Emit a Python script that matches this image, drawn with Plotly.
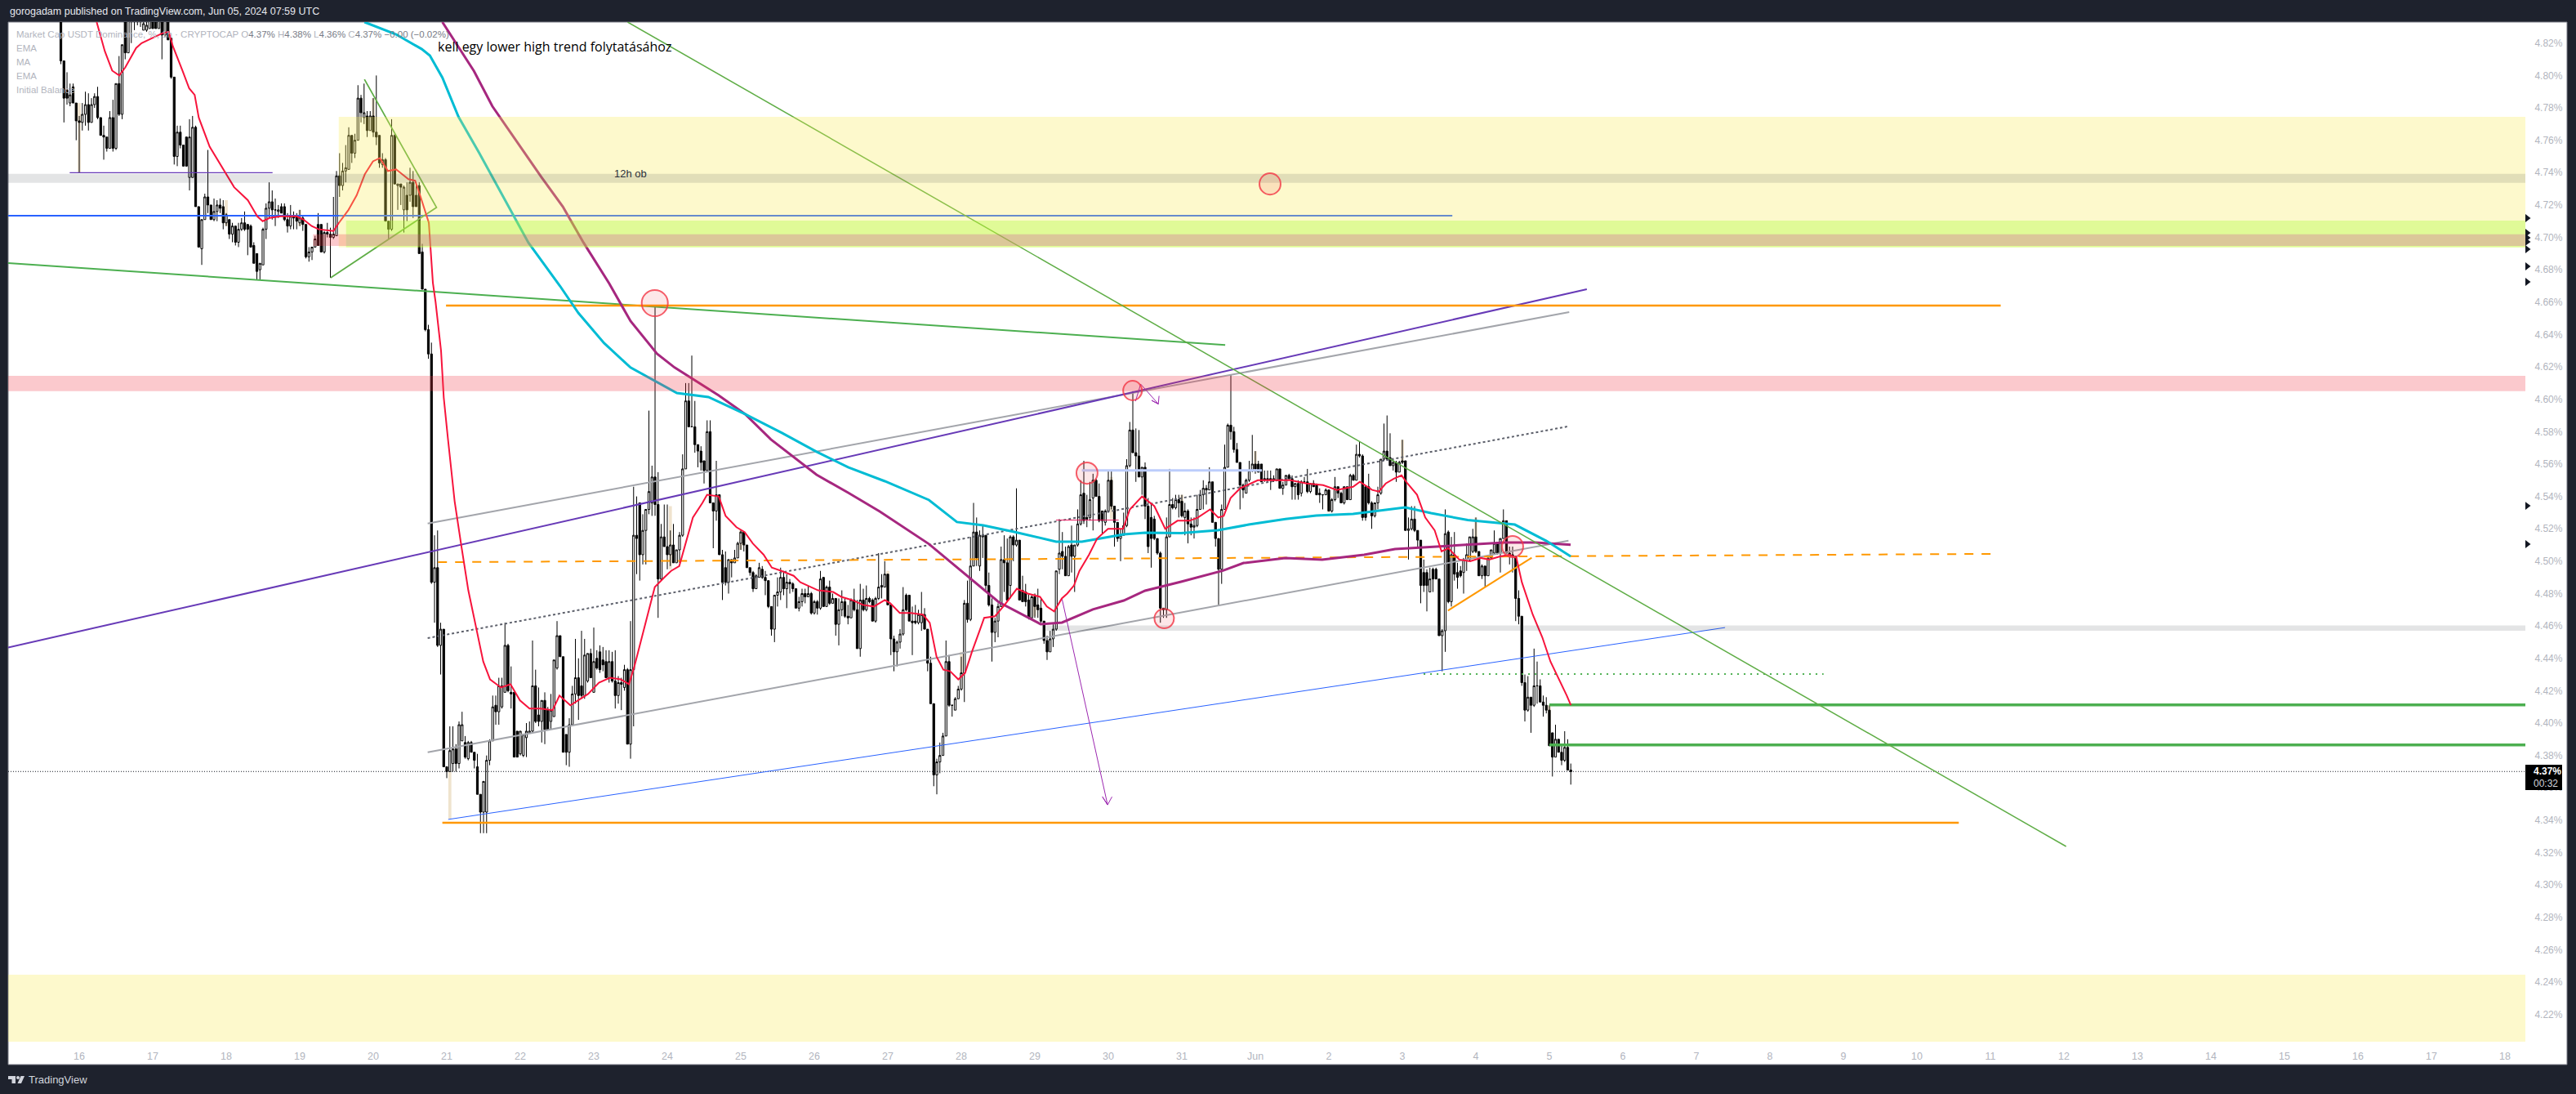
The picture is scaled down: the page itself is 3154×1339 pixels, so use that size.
import pandas as pd
import plotly.graph_objects as go

# ---------- chart values: USDT dominance (%), 1h candles, first candle = May 15 18:00 ----------
first_hour = -6  # hours relative to May 16 00:00
opens = [4.838,4.809,4.791,4.783,4.793,4.783,
4.772,4.771,4.776,4.782,4.771,4.782,4.787,4.774,4.763,4.762,4.755,4.774,4.755,4.795,4.776,4.833,4.814,4.838,4.837,4.834,4.837,4.828,4.828,4.829,
4.835,4.835,4.829,4.836,4.825,4.836,4.823,4.799,4.750,4.765,4.757,4.762,4.737,4.737,4.768,4.719,4.693,4.711,4.725,4.720,4.711,4.716,4.720,4.719,
4.709,4.711,4.702,4.707,4.697,4.705,4.709,4.708,4.707,4.695,4.690,4.680,4.683,4.705,4.718,4.722,4.717,4.716,4.719,4.719,4.711,4.707,4.713,4.713,
4.709,4.712,4.708,4.688,4.691,4.694,4.708,4.708,4.691,4.703,4.702,4.700,4.701,4.738,4.732,4.741,4.742,4.763,4.752,4.760,4.786,4.774,4.775,4.766,
4.775,4.765,4.763,4.745,4.748,4.710,4.705,4.763,4.732,4.733,4.717,4.726,4.726,4.734,4.726,4.732,4.691,4.668,4.643,4.628,4.487,4.496,4.448,4.458,
4.373,4.370,4.375,4.384,4.375,4.389,4.388,4.378,4.388,4.382,4.373,4.356,4.345,4.345,4.377,4.389,4.411,4.407,4.410,4.419,4.448,4.419,4.419,4.395,
4.381,4.380,4.391,4.394,4.395,4.423,4.405,4.401,4.414,4.408,4.401,4.404,4.434,4.454,4.441,4.393,4.382,4.399,4.418,4.428,4.423,4.417,4.426,4.443,
4.419,4.440,4.444,4.439,4.438,4.428,4.438,4.426,4.417,4.425,4.422,4.433,4.387,4.433,4.516,4.536,4.504,4.519,4.532,4.536,4.552,4.535,4.489,4.515,
4.509,4.504,4.510,4.499,4.507,4.516,4.557,4.599,4.583,4.583,4.572,4.568,4.562,4.556,4.580,4.536,4.531,4.541,4.504,4.496,4.487,4.501,4.499,4.502,
4.511,4.518,4.510,4.496,4.493,4.483,4.490,4.495,4.490,4.488,4.472,4.458,4.479,4.481,4.490,4.483,4.487,4.486,4.483,4.471,4.475,4.480,4.478,4.480,
4.468,4.475,4.471,4.490,4.472,4.484,4.474,4.477,4.461,4.470,4.475,4.466,4.465,4.476,4.470,4.446,4.476,4.470,4.477,4.476,4.463,4.477,4.484,4.484,
4.492,4.473,4.452,4.444,4.450,4.455,4.479,4.479,4.463,4.463,4.462,4.462,4.467,4.458,4.437,4.412,4.368,4.376,4.380,4.392,4.438,4.411,4.408,4.415,
4.421,4.431,4.474,4.464,4.497,4.518,4.497,4.515,4.516,4.485,4.473,4.456,4.463,4.472,4.501,4.499,4.485,4.515,4.510,4.513,4.482,4.481,4.476,4.465,
4.478,4.473,4.471,4.463,4.451,4.444,4.452,4.458,4.495,4.506,4.503,4.491,4.510,4.503,4.510,4.523,4.542,4.527,4.527,4.539,4.550,4.540,4.531,4.524,
4.531,4.550,4.534,4.524,4.514,4.516,4.522,4.559,4.581,4.567,4.565,4.552,4.558,4.534,4.527,4.526,4.514,4.505,4.471,4.470,4.515,4.535,4.533,4.538,
4.537,4.527,4.531,4.523,4.521,4.522,4.532,4.541,4.545,4.544,4.549,4.524,4.514,4.495,4.532,4.558,4.584,4.580,4.569,4.561,4.547,4.542,4.550,4.556,
4.560,4.560,4.560,4.551,4.551,4.551,4.550,4.550,4.557,4.545,4.547,4.553,4.551,4.546,4.548,4.542,4.549,4.549,4.543,4.548,4.547,4.542,4.541,4.541,
4.544,4.531,4.538,4.546,4.542,4.536,4.546,4.538,4.553,4.550,4.566,4.565,4.546,4.546,4.536,4.528,4.536,4.542,4.563,4.568,4.564,4.559,4.561,4.555,
4.562,4.562,4.519,4.520,4.526,4.519,4.513,4.493,4.493,4.481,4.495,4.495,4.489,4.454,4.457,4.518,4.475,4.504,4.493,4.494,4.493,4.501,4.501,4.506,
4.515,4.506,4.491,4.497,4.491,4.502,4.505,4.511,4.505,4.514,4.525,4.505,4.504,4.503,4.477,4.466,4.425,4.408,4.416,4.411,4.423,4.423,4.413,4.411,
4.408,4.394,4.379,4.390,4.382,4.377,4.385,4.371]
highs = [4.843,4.809,4.802,4.795,4.795,4.783,
4.775,4.783,4.790,4.789,4.786,4.789,4.793,4.774,4.769,4.762,4.778,4.785,4.795,4.812,4.819,4.836,4.842,4.842,4.840,4.840,4.840,4.836,4.836,4.838,
4.838,4.838,4.840,4.840,4.838,4.838,4.823,4.799,4.769,4.769,4.757,4.762,4.773,4.775,4.769,4.719,4.711,4.727,4.754,4.720,4.724,4.723,4.724,4.723,
4.715,4.711,4.709,4.707,4.709,4.712,4.716,4.708,4.708,4.697,4.690,4.684,4.706,4.721,4.734,4.729,4.724,4.720,4.721,4.721,4.715,4.720,4.716,4.715,
4.717,4.713,4.708,4.694,4.694,4.701,4.715,4.708,4.704,4.709,4.706,4.725,4.741,4.752,4.746,4.757,4.768,4.763,4.764,4.794,4.788,4.795,4.778,4.778,
4.786,4.800,4.763,4.752,4.749,4.710,4.773,4.764,4.733,4.733,4.732,4.734,4.743,4.741,4.733,4.734,4.696,4.668,4.646,4.635,4.516,4.519,4.462,4.458,
4.373,4.398,4.398,4.387,4.401,4.407,4.392,4.389,4.389,4.382,4.381,4.356,4.364,4.380,4.390,4.417,4.417,4.428,4.428,4.462,4.449,4.435,4.419,4.395,
4.395,4.393,4.400,4.401,4.451,4.433,4.422,4.414,4.419,4.410,4.418,4.439,4.463,4.454,4.441,4.393,4.403,4.423,4.452,4.440,4.457,4.452,4.443,4.446,
4.459,4.445,4.448,4.447,4.445,4.445,4.444,4.445,4.429,4.428,4.436,4.434,4.463,4.546,4.540,4.536,4.529,4.532,4.593,4.559,4.657,4.555,4.523,4.535,
4.535,4.519,4.523,4.507,4.518,4.566,4.610,4.610,4.627,4.599,4.572,4.571,4.562,4.587,4.587,4.536,4.562,4.541,4.507,4.506,4.501,4.501,4.507,4.512,
4.519,4.518,4.510,4.496,4.494,4.492,4.499,4.497,4.494,4.488,4.472,4.479,4.490,4.496,4.494,4.492,4.489,4.487,4.483,4.478,4.483,4.483,4.485,4.481,
4.476,4.476,4.494,4.490,4.485,4.488,4.480,4.477,4.477,4.482,4.477,4.473,4.477,4.483,4.476,4.486,4.483,4.485,4.478,4.477,4.478,4.505,4.492,4.500,
4.492,4.473,4.454,4.451,4.458,4.484,4.480,4.479,4.472,4.473,4.470,4.481,4.471,4.458,4.441,4.412,4.378,4.388,4.394,4.451,4.442,4.411,4.416,4.423,
4.441,4.476,4.488,4.515,4.536,4.527,4.519,4.522,4.516,4.493,4.477,4.465,4.474,4.509,4.516,4.514,4.516,4.516,4.545,4.513,4.491,4.486,4.480,4.479,
4.480,4.483,4.477,4.463,4.454,4.457,4.461,4.494,4.526,4.518,4.509,4.510,4.522,4.510,4.532,4.550,4.562,4.541,4.549,4.554,4.551,4.548,4.531,4.532,
4.556,4.556,4.534,4.524,4.520,4.530,4.563,4.586,4.605,4.582,4.581,4.558,4.561,4.539,4.536,4.528,4.514,4.506,4.471,4.527,4.557,4.539,4.541,4.541,
4.541,4.536,4.532,4.527,4.527,4.541,4.544,4.550,4.547,4.558,4.549,4.524,4.514,4.535,4.572,4.585,4.615,4.583,4.573,4.561,4.548,4.551,4.562,4.578,
4.568,4.562,4.560,4.556,4.556,4.556,4.553,4.557,4.557,4.549,4.553,4.554,4.553,4.548,4.550,4.550,4.552,4.557,4.548,4.550,4.548,4.545,4.541,4.545,
4.544,4.539,4.552,4.546,4.543,4.546,4.546,4.554,4.554,4.572,4.574,4.566,4.546,4.554,4.537,4.536,4.546,4.563,4.585,4.590,4.579,4.563,4.562,4.562,
4.575,4.562,4.527,4.534,4.534,4.519,4.513,4.501,4.495,4.496,4.496,4.496,4.489,4.458,4.532,4.519,4.515,4.518,4.499,4.497,4.502,4.511,4.515,4.520,
4.527,4.506,4.498,4.497,4.502,4.507,4.519,4.512,4.514,4.532,4.525,4.509,4.509,4.503,4.482,4.466,4.430,4.429,4.416,4.446,4.438,4.427,4.417,4.416,
4.411,4.394,4.399,4.390,4.387,4.395,4.390,4.375]
lows = [4.807,4.771,4.782,4.781,4.783,4.760,
4.740,4.766,4.769,4.766,4.771,4.780,4.773,4.763,4.748,4.753,4.755,4.753,4.754,4.775,4.773,4.810,4.814,4.820,4.828,4.831,4.830,4.828,4.827,4.829,
4.829,4.829,4.829,4.810,4.824,4.822,4.798,4.745,4.744,4.755,4.744,4.744,4.729,4.737,4.719,4.694,4.683,4.711,4.715,4.711,4.710,4.710,4.715,4.705,
4.707,4.699,4.697,4.695,4.694,4.704,4.704,4.689,4.694,4.684,4.674,4.674,4.683,4.699,4.712,4.711,4.707,4.712,4.715,4.710,4.703,4.705,4.705,4.705,
4.707,4.704,4.687,4.685,4.686,4.694,4.695,4.691,4.690,4.700,4.675,4.699,4.701,4.725,4.729,4.734,4.742,4.746,4.749,4.760,4.771,4.770,4.762,4.766,
4.762,4.757,4.743,4.743,4.710,4.699,4.704,4.733,4.717,4.720,4.703,4.710,4.722,4.712,4.719,4.690,4.668,4.642,4.625,4.486,4.462,4.447,4.430,4.373,
4.366,4.370,4.370,4.370,4.372,4.389,4.378,4.377,4.382,4.372,4.356,4.332,4.332,4.332,4.374,4.389,4.399,4.399,4.409,4.419,4.419,4.409,4.379,4.379,
4.380,4.379,4.379,4.394,4.394,4.400,4.398,4.388,4.387,4.396,4.396,4.404,4.433,4.441,4.382,4.374,4.373,4.399,4.412,4.402,4.415,4.415,4.425,4.428,
4.419,4.433,4.431,4.432,4.428,4.425,4.425,4.409,4.412,4.408,4.420,4.387,4.378,4.398,4.492,4.488,4.498,4.498,4.529,4.528,4.528,4.465,4.488,4.509,
4.495,4.497,4.499,4.499,4.499,4.515,4.557,4.583,4.583,4.567,4.558,4.556,4.548,4.555,4.536,4.508,4.525,4.504,4.476,4.485,4.480,4.490,4.499,4.502,
4.507,4.506,4.496,4.491,4.481,4.483,4.490,4.489,4.479,4.471,4.454,4.450,4.472,4.476,4.479,4.471,4.480,4.481,4.471,4.469,4.472,4.474,4.478,4.467,
4.467,4.467,4.470,4.472,4.472,4.473,4.474,4.454,4.448,4.466,4.465,4.461,4.465,4.469,4.446,4.441,4.469,4.469,4.474,4.463,4.462,4.476,4.477,4.484,
4.473,4.442,4.432,4.435,4.446,4.454,4.469,4.463,4.442,4.461,4.461,4.457,4.458,4.432,4.412,4.361,4.356,4.369,4.380,4.392,4.410,4.404,4.408,4.415,
4.420,4.413,4.462,4.463,4.497,4.497,4.494,4.502,4.482,4.472,4.438,4.450,4.453,4.472,4.481,4.475,4.477,4.500,4.509,4.476,4.475,4.472,4.464,4.465,
4.465,4.465,4.462,4.449,4.439,4.444,4.447,4.457,4.492,4.495,4.491,4.491,4.493,4.481,4.509,4.522,4.523,4.521,4.525,4.519,4.540,4.524,4.517,4.522,
4.530,4.532,4.509,4.512,4.500,4.516,4.521,4.558,4.567,4.549,4.552,4.541,4.526,4.505,4.496,4.513,4.504,4.462,4.465,4.465,4.515,4.532,4.532,4.527,
4.527,4.516,4.511,4.516,4.514,4.521,4.532,4.532,4.535,4.544,4.524,4.509,4.473,4.486,4.532,4.558,4.575,4.567,4.561,4.532,4.539,4.542,4.549,4.555,
4.554,4.555,4.549,4.549,4.549,4.544,4.549,4.550,4.545,4.541,4.547,4.550,4.538,4.538,4.538,4.540,4.548,4.542,4.542,4.546,4.541,4.536,4.532,4.541,
4.531,4.530,4.537,4.539,4.536,4.535,4.538,4.538,4.550,4.550,4.564,4.525,4.525,4.535,4.520,4.527,4.532,4.541,4.562,4.562,4.559,4.556,4.549,4.555,
4.560,4.519,4.501,4.519,4.518,4.509,4.474,4.481,4.469,4.481,4.481,4.489,4.454,4.432,4.444,4.474,4.472,4.488,4.483,4.490,4.480,4.494,4.500,4.505,
4.505,4.491,4.489,4.484,4.491,4.501,4.504,4.504,4.493,4.514,4.505,4.498,4.493,4.463,4.461,4.423,4.401,4.407,4.394,4.410,4.412,4.413,4.404,4.406,
4.386,4.367,4.379,4.382,4.374,4.376,4.371,4.362]
closes = [4.809,4.786,4.786,4.788,4.783,4.772,
4.771,4.776,4.782,4.771,4.782,4.787,4.774,4.763,4.762,4.755,4.774,4.755,4.795,4.776,4.819,4.814,4.840,4.835,4.834,4.837,4.834,4.832,4.831,4.835,
4.829,4.829,4.836,4.825,4.836,4.822,4.799,4.750,4.765,4.757,4.744,4.744,4.762,4.768,4.719,4.694,4.711,4.725,4.720,4.711,4.716,4.720,4.718,4.709,
4.714,4.702,4.707,4.697,4.705,4.709,4.705,4.705,4.694,4.684,4.679,4.684,4.705,4.718,4.722,4.717,4.717,4.717,4.715,4.711,4.707,4.713,4.712,4.710,
4.712,4.708,4.688,4.691,4.694,4.699,4.695,4.691,4.703,4.702,4.700,4.702,4.738,4.732,4.741,4.743,4.763,4.752,4.760,4.786,4.777,4.777,4.766,4.775,
4.765,4.762,4.746,4.748,4.710,4.705,4.763,4.733,4.733,4.731,4.731,4.717,4.734,4.719,4.719,4.690,4.668,4.643,4.628,4.487,4.496,4.448,4.458,4.373,
4.370,4.383,4.384,4.375,4.399,4.399,4.379,4.388,4.382,4.377,4.356,4.345,4.364,4.377,4.389,4.410,4.407,4.423,4.423,4.448,4.420,4.418,4.379,4.379,
4.395,4.393,4.395,4.395,4.423,4.401,4.401,4.414,4.396,4.396,4.408,4.439,4.454,4.441,4.382,4.382,4.399,4.418,4.428,4.417,4.417,4.442,4.443,4.428,
4.438,4.434,4.433,4.436,4.428,4.438,4.426,4.417,4.425,4.424,4.433,4.387,4.433,4.516,4.514,4.504,4.519,4.532,4.543,4.552,4.535,4.489,4.515,4.509,
4.504,4.510,4.499,4.507,4.516,4.557,4.599,4.583,4.583,4.572,4.568,4.561,4.556,4.580,4.536,4.531,4.541,4.504,4.487,4.487,4.501,4.499,4.502,4.511,
4.518,4.510,4.496,4.493,4.483,4.491,4.496,4.490,4.488,4.472,4.458,4.479,4.481,4.490,4.483,4.487,4.486,4.483,4.471,4.475,4.480,4.478,4.480,4.468,
4.475,4.471,4.489,4.472,4.484,4.474,4.477,4.461,4.470,4.475,4.466,4.465,4.476,4.470,4.446,4.476,4.470,4.477,4.475,4.463,4.477,4.484,4.485,4.492,
4.473,4.452,4.444,4.450,4.455,4.470,4.470,4.463,4.462,4.462,4.467,4.467,4.458,4.437,4.412,4.368,4.376,4.380,4.392,4.438,4.411,4.411,4.415,4.421,
4.431,4.474,4.464,4.497,4.518,4.502,4.516,4.516,4.485,4.473,4.456,4.463,4.472,4.501,4.499,4.476,4.515,4.510,4.513,4.476,4.475,4.475,4.465,4.478,
4.472,4.470,4.463,4.451,4.444,4.452,4.458,4.494,4.505,4.503,4.491,4.509,4.503,4.510,4.523,4.541,4.525,4.526,4.538,4.550,4.540,4.525,4.525,4.531,
4.550,4.534,4.524,4.514,4.516,4.522,4.559,4.581,4.567,4.565,4.552,4.558,4.534,4.509,4.514,4.514,4.505,4.471,4.470,4.515,4.535,4.533,4.538,4.536,
4.528,4.531,4.523,4.521,4.522,4.532,4.541,4.545,4.544,4.549,4.524,4.514,4.495,4.532,4.558,4.584,4.580,4.569,4.561,4.547,4.544,4.550,4.556,4.560,
4.557,4.555,4.549,4.550,4.550,4.550,4.551,4.557,4.545,4.547,4.553,4.551,4.546,4.548,4.541,4.549,4.549,4.543,4.548,4.546,4.541,4.541,4.541,4.544,
4.531,4.538,4.546,4.542,4.536,4.546,4.538,4.553,4.550,4.566,4.565,4.527,4.527,4.536,4.528,4.536,4.541,4.563,4.568,4.563,4.559,4.561,4.555,4.561,
4.561,4.519,4.520,4.526,4.519,4.513,4.485,4.485,4.485,4.489,4.489,4.489,4.454,4.457,4.517,4.475,4.504,4.492,4.490,4.491,4.501,4.504,4.515,4.515,
4.506,4.491,4.497,4.491,4.502,4.507,4.511,4.505,4.514,4.525,4.505,4.503,4.503,4.477,4.466,4.425,4.408,4.416,4.411,4.423,4.423,4.413,4.411,4.408,
4.386,4.379,4.390,4.382,4.377,4.385,4.371,4.370]

# indicator lines: days after May 16 00:00, price
ema_fast_days = [.237,.348,.448,.544,.626,.774,.848,.996,1.126,1.218,1.274,1.404,1.496,1.570,1.626,1.774,1.959,2.107,2.293,2.422,2.496,2.589,2.737,2.959,3.052,3.163,3.256,3.404,3.459,3.533,3.663,3.774,3.885,3.996,4.089,4.2,4.311,4.478,4.57,4.644,4.756,4.811,4.848,4.922,4.959,5.015,5.107,5.2,5.293,5.404,5.496,5.589,5.737,5.867,5.996,6.126,6.274,6.441,6.533,6.681,6.811,6.922,7.07,7.219,7.367,7.478,7.552,7.663,7.756,7.83,7.959,8.052,8.163,8.256,8.348,8.478,8.541,8.7,8.793,8.941,9.052,9.163,9.311,9.422,9.552,9.719,9.811,10.052,10.256,10.367,10.515,10.663,10.811,10.959,11.033,11.163,11.311,11.478,11.57,11.663,11.756,11.848,11.959,12.052,12.144,12.256,12.311,12.459,12.589,12.756,12.904,13.07,13.163,13.263,13.367,13.441,13.533,13.607,13.737,13.848,13.996,14.2,14.293,14.459,14.626,14.774,14.941,15.107,15.219,15.385,15.496,15.57,15.663,15.793,16.033,16.219,16.478,16.7,16.922,17.107,17.33,17.422,17.589,17.681,17.774,17.885,17.989,18.07,18.2,18.311,18.44,18.533,18.626,18.774,18.922,19.07,19.181,19.33,19.459,19.552,19.626,19.774,19.904,20.015,20.144,20.237,20.293]
ema_fast_price = [4.833,4.815,4.803,4.800,4.805,4.817,4.820,4.823,4.826,4.827,4.818,4.803,4.792,4.788,4.774,4.756,4.742,4.731,4.723,4.713,4.710,4.712,4.713,4.713,4.711,4.707,4.705,4.704,4.704,4.709,4.717,4.726,4.739,4.747,4.749,4.741,4.742,4.736,4.735,4.725,4.709,4.672,4.660,4.630,4.601,4.576,4.537,4.509,4.482,4.458,4.438,4.427,4.422,4.424,4.414,4.409,4.409,4.408,4.417,4.411,4.415,4.418,4.425,4.428,4.427,4.424,4.435,4.455,4.472,4.484,4.490,4.494,4.497,4.512,4.527,4.536,4.541,4.540,4.528,4.521,4.518,4.511,4.504,4.496,4.494,4.491,4.487,4.482,4.481,4.478,4.476,4.473,4.472,4.476,4.474,4.468,4.468,4.467,4.462,4.441,4.433,4.432,4.427,4.431,4.444,4.458,4.465,4.466,4.473,4.483,4.480,4.478,4.472,4.469,4.477,4.480,4.485,4.494,4.504,4.514,4.520,4.520,4.532,4.540,4.534,4.520,4.525,4.525,4.527,4.532,4.527,4.528,4.539,4.545,4.550,4.550,4.550,4.548,4.547,4.544,4.546,4.549,4.544,4.543,4.548,4.551,4.553,4.548,4.541,4.527,4.519,4.506,4.508,4.501,4.500,4.502,4.501,4.503,4.504,4.502,4.487,4.467,4.453,4.438,4.426,4.417,4.411]
teal_days = [3.88,4.31,4.66,4.77,4.94,5.16,5.44,5.90,6.11,6.54,6.79,7.14,7.50,8.13,8.56,9.06,9.56,10.03,10.46,10.96,11.56,11.94,12.30,12.72,13.29,13.64,14.21,14.50,14.99,15.49,15.91,16.41,16.83,17.33,18.04,18.39,18.89,19.53,19.96,20.29]
teal_price = [4.833,4.8254,4.8163,4.8123,4.7987,4.7744,4.7522,4.7139,4.6968,4.6700,4.6533,4.6347,4.6196,4.6039,4.6014,4.5908,4.5792,4.5676,4.5580,4.5494,4.5378,4.5242,4.5221,4.5181,4.5121,4.5121,4.5166,4.5176,4.5173,4.5191,4.5226,4.5261,4.5282,4.5292,4.5332,4.5297,4.5254,4.5226,4.5125,4.5030]
magenta_days = [4.94,5.16,5.37,5.62,5.93,6.29,6.58,6.86,7.21,7.50,7.86,8.10,8.70,9.06,9.41,10.03,10.46,10.89,11.56,12.02,12.51,13.08,13.37,13.79,14.21,14.50,14.99,15.56,15.84,16.41,16.91,17.48,17.90,18.47,18.96,19.39,19.81,20.29]
magenta_price = [4.833,4.8178,4.8027,4.7810,4.7608,4.7371,4.7189,4.6968,4.6715,4.6483,4.6281,4.6196,4.6024,4.5908,4.5752,4.5534,4.5423,4.5307,4.5106,4.4934,4.4747,4.4611,4.4621,4.4702,4.4757,4.4818,4.4873,4.4942,4.4989,4.5019,4.5009,4.5040,4.5075,4.5090,4.5105,4.5116,4.5116,4.5101]

# drawn trend lines: (days, price)
green_slow_days, green_slow_price = [-0.967, 15.59], [4.6841, 4.6335]
green_fall_days, green_fall_price = [7.46, 27.03], [4.833, 4.3238]
purple_rise_days, purple_rise_price = [-0.967, 20.51], [4.4467, 4.668]
channel_top_days, channel_top_price = [4.74, 20.27], [4.5233, 4.6538]
channel_low_days, channel_low_price = [4.74, 20.26], [4.382, 4.5127]
channel_mid_days, channel_mid_price = [4.74, 20.26], [4.4525, 4.5833]
blue_rise_days, blue_rise_price = [5.02, 22.39], [4.3405, 4.459]
orange_dash_days, orange_dash_price = [4.88, 26.01], [4.4994, 4.5045]
orange_top_days, orange_top_price = [4.99, 26.14], [4.6579, 4.6579]
orange_low_days, orange_low_price = [4.94, 25.57], [4.3385, 4.3385]
orange_wedge_days, orange_wedge_price = [18.62, 19.76], [4.4695, 4.5021]
blue_flat_days, blue_flat_price = [-0.967, 18.68], [4.7134, 4.7134]
purple_flat_days, purple_flat_price = [-0.13, 2.63], [4.74, 4.74]
lightblue_days, lightblue_price = [13.64, 16.09], [4.5561, 4.5561]
pink_days, pink_price = [13.29, 14.14], [4.5254, 4.5254]
green_upper_days, green_upper_price = [20.0, 33.278], [4.4113, 4.4113]
green_lower_days, green_lower_price = [20.0, 33.278], [4.3865, 4.3865]
green_dot_days, green_dot_price = [18.29, 23.73], [4.4303, 4.4303]
triangle_days, triangle_price = [3.88, 4.86, 3.42], [4.7976, 4.7185, 4.675]
arrow1_days, arrow1_price = [13.37, 13.99, 13.92, 13.99, 14.05], [4.4767, 4.3495, 4.3545, 4.3495, 4.3545]
arrow2_days, arrow2_price = [14.37, 14.44, 14.68, 14.59, 14.68, 14.69], [4.5988, 4.6094, 4.5971, 4.5993, 4.5971, 4.6021]
last_price = 4.3701

# zones: x0 day, x1 day, price bottom, price top
zone_yellow = (3.53, 33.278, 4.6938, 4.7744)
zone_yellow_low = (-0.967, 33.278, 4.2032, 4.2446)
zone_gray_top = (-0.967, 33.278, 4.7337, 4.7393)
zone_gray_low = (13.11, 33.278, 4.457, 4.4603)
zone_pink = (-0.967, 33.278, 4.605, 4.6145)
zone_green = (3.63, 33.278, 4.6938, 4.7104)
zone_pink_left = (3.18, 3.63, 4.6947, 4.7019)
zone_tan = (3.63, 33.278, 4.6947, 4.7019)

# circles: day, price, day radius, price radius
circle_days = [7.83, 14.33, 13.71, 14.76, 19.5, 16.2]
circle_price = [4.6594, 4.6054, 4.5544, 4.4646, 4.509, 4.733]
circle_rdays = [.178, .128, .144, .133, .144, .144]
circle_rprice = [.0081, .006, .0066, .006, .0066, .0066]

# session highlight candles: hour, price bottom, price top
beige_hours = [0, 48, 72, 96, 121, 144, 168, 193, 216, 264, 288, 312, 337, 360, 384, 408, 432, 456, 480]
beige_low = [4.740, 4.707, 4.707, 4.774, 4.341, 4.381, 4.419, 4.495, 4.507, 4.473, 4.421, 4.466, 4.526, 4.530, 4.555, 4.530, 4.561, 4.505, 4.387]
beige_high = [4.783, 4.723, 4.717, 4.786, 4.370, 4.395, 4.438, 4.534, 4.519, 4.494, 4.444, 4.480, 4.552, 4.541, 4.568, 4.544, 4.575, 4.527, 4.411]

alert_price = [4.7119, 4.7028, 4.6998, 4.6973, 4.6927, 4.6821, 4.6725, 4.5342, 4.5105]

y_ticks = [4.22,4.24,4.26,4.28,4.30,4.32,4.34,4.36,4.38,4.40,4.42,4.44,4.46,4.48,4.50,4.52,4.54,4.56,4.58,4.60,4.62,4.64,4.66,4.68,4.70,4.72,4.74,4.76,4.78,4.80,4.82]
x_tick_labels = ["16","17","18","19","20","21","22","23","24","25","26","27","28","29","30","31","Jun","2","3","4","5","6","7","8","9","10","11","12","13","14","15","16","17","18"]

# ---------- build ----------
T0 = pd.Timestamp("2024-05-16")
def D(days):
    return T0 + pd.to_timedelta(days, unit="D")
def DL(days):
    return [D(d) for d in days]

PANE_L, PANE_R, PANE_T, PANE_B = 10, 3092, 27, 1275
W, H = 3154, 1339
def PX(x):
    return (x - PANE_L) / (PANE_R - PANE_L)
def PY(y):
    return 1 - (y - PANE_T) / (PANE_B - PANE_T)

XMIN, XMAX = -0.967, 33.278
YMIN, YMAX = 4.2032, 4.833
FONT = "Liberation Sans"
TXT = "#B2B5BE"
INK = "#000000"

fig = go.Figure()
hours = [first_hour + i for i in range(len(opens))]
fig.add_trace(go.Candlestick(
    x=[D(h / 24) for h in hours], open=opens, high=highs, low=lows, close=closes,
    increasing=dict(line=dict(color=INK, width=1), fillcolor="#FFFFFF"),
    decreasing=dict(line=dict(color=INK, width=1), fillcolor=INK),
    whiskerwidth=0, hoverinfo="skip", showlegend=False))

def line(days, price, color, width, dash="solid"):
    fig.add_trace(go.Scatter(x=DL(days), y=price, mode="lines", hoverinfo="skip", showlegend=False,
                             line=dict(color=color, width=width, dash=dash)))

line([XMIN, 20.29], [last_price, last_price], "#131722", 1, "1px,2px")
line([20.29, XMAX], [last_price, last_price], "#131722", 1, "1px,2px")
line(green_slow_days, green_slow_price, "#4CAF50", 2)
line(purple_flat_days, purple_flat_price, "#673AB7", 1.2)
line(channel_top_days, channel_top_price, "#A3A5AB", 2)
line(channel_low_days, channel_low_price, "#A3A5AB", 2)
line(channel_mid_days, channel_mid_price, "#5D606B", 2, "3px,3px")
line(purple_rise_days, purple_rise_price, "#673AB7", 2)
line(blue_rise_days, blue_rise_price, "#2962FF", 1)
line(orange_dash_days, orange_dash_price, "#FF9800", 2, "11px,10px")
line(orange_top_days, orange_top_price, "#FF9800", 2.5)
line(orange_low_days, orange_low_price, "#FF9800", 2.5)
line(orange_wedge_days, orange_wedge_price, "#FF9800", 2)
line(blue_flat_days, blue_flat_price, "#2962FF", 2)
line(lightblue_days, lightblue_price, "#BCCDFB", 3)
line(pink_days, pink_price, "#E91E63", 1)
line(green_upper_days, green_upper_price, "#4CAF50", 3.5)
line(green_lower_days, green_lower_price, "#4CAF50", 3.5)
line(green_dot_days, green_dot_price, "#4CAF50", 2, "2px,6px")
line(triangle_days, triangle_price, "#5FAD46", 1.8)
line(arrow1_days, arrow1_price, "#9C27B0", 1)
line(arrow2_days, arrow2_price, "#9C27B0", 1)
line(magenta_days, magenta_price, "#A6277F", 3)
line(teal_days, teal_price, "#00BCD4", 3)
line(ema_fast_days, ema_fast_price, "#F7143C", 2)
line(green_fall_days, green_fall_price, "#5FAD46", 1.5)

shapes = []
shapes.append(dict(type="rect", xref="paper", yref="paper", x0=PX(10), x1=PX(3143), y0=PY(27), y1=PY(1303),
                   fillcolor="#FFFFFF", line=dict(color="#787B86", width=1), layer="below"))
for h, lo, hi in zip(beige_hours, beige_low, beige_high):
    shapes.append(dict(type="rect", xref="x", yref="y", x0=D((h - .5) / 24), x1=D((h + .5) / 24), y0=lo, y1=hi,
                       fillcolor="#EFE3CE", line=dict(width=0), layer="below"))
def zone(z, color):
    shapes.append(dict(type="rect", xref="x", yref="y", x0=D(z[0]), x1=D(z[1]), y0=z[2], y1=z[3],
                       fillcolor=color, line=dict(width=0), layer="above"))
zone(zone_yellow, "rgba(248,235,85,0.3)")
zone(zone_yellow_low, "rgba(248,235,85,0.3)")
zone(zone_gray_top, "rgba(42,46,57,0.13)")
zone(zone_gray_low, "rgba(42,46,57,0.13)")
zone(zone_pink, "rgba(242,54,69,0.27)")
zone(zone_green, "rgba(160,252,30,0.3)")
zone(zone_pink_left, "rgba(242,54,69,0.27)")
zone(zone_tan, "rgba(205,46,160,0.25)")
for d, p, rd, rp in zip(circle_days, circle_price, circle_rdays, circle_rprice):
    shapes.append(dict(type="circle", xref="x", yref="y", x0=D(d - rd), x1=D(d + rd), y0=p - rp, y1=p + rp,
                       fillcolor="rgba(242,54,69,0.12)", line=dict(color="rgba(242,54,69,0.8)", width=2), layer="above"))
# alert markers on the price scale edge
for p in alert_price:
    shapes.append(dict(type="path", xref="paper", yref="y", layer="above", fillcolor="#131722", line=dict(width=0),
                       path=f"M {PX(3092)} {p + .0025} L {PX(3098.5)} {p} L {PX(3092)} {p - .0025} Z"))
# last price tag
shapes.append(dict(type="rect", xref="paper", yref="paper", x0=PX(3092), x1=PX(3137), y0=PY(936), y1=PY(967),
                   fillcolor="#000000", line=dict(width=0), layer="above"))
# TradingView logo
logo = (f"M {PX(10)} {PY(1317)} L {PX(19)} {PY(1317)} L {PX(19)} {PY(1326)} L {PX(14.5)} {PY(1326)} "
        f"L {PX(14.5)} {PY(1321)} L {PX(10)} {PY(1321)} Z "
        f"M {PX(25.5)} {PY(1317)} L {PX(30)} {PY(1317)} L {PX(26)} {PY(1326)} L {PX(21.5)} {PY(1326)} Z")
shapes.append(dict(type="path", xref="paper", yref="paper", path=logo, fillcolor="#D1D4DC", line=dict(width=0), layer="above"))
shapes.append(dict(type="circle", xref="paper", yref="paper", x0=PX(20), x1=PX(24), y0=PY(1321), y1=PY(1317),
                   fillcolor="#D1D4DC", line=dict(width=0), layer="above"))

def note(x, y, text, size=12, color=TXT, anchor="left", family=FONT):
    return dict(xref="paper", yref="paper", x=PX(x), y=PY(y), text=text, showarrow=False, xanchor=anchor,
                yanchor="middle", font=dict(size=size, color=color, family=family), align="left")

V = "#787B86"
legend_head = ("Market Cap USDT Dominance, %, 1h · CRYPTOCAP "
               f"O<span style='color:{V}'>4.37%</span> H<span style='color:{V}'>4.38%</span> "
               f"L<span style='color:{V}'>4.36%</span> C<span style='color:{V}'>4.37%</span> "
               f"<span style='color:{V}'>−0.00 (−0.02%)</span>")
annotations = [
    note(10, 14, "gorogadam published on TradingView.com, Jun 05, 2024 07:59 UTC", 12.5, "#E6E8EE"),
    note(33, 1321, "TradingView", 13, "#D1D4DC"),
    note(18, 42, legend_head, 11.5),
    note(18, 59, "EMA", 11.5), note(18, 76, "MA", 11.5), note(18, 93, "EMA", 11.5), note(18, 110, "Initial Balance", 11.5),
    note(534, 57, "kell egy lower high trend folytatásához", 16, "#000000", family="Open Sans"),
    note(3100, 944, "<b>4.37%</b>", 12, "#FFFFFF"),
    note(3100, 959, "00:32", 12, "#D1D4DC"),
    dict(xref="x", yref="y", x=D(7.5), y=4.7395, text="12h ob", showarrow=False,
         font=dict(size=13, color="#2A2E39", family=FONT)),
]

fig.update_layout(
    width=W, height=H, autosize=False, boxgap=0.15,
    margin=dict(l=PANE_L, r=W - PANE_R, t=PANE_T, b=H - PANE_B, pad=0, autoexpand=False),
    paper_bgcolor="#1E222D", plot_bgcolor="#FFFFFF", showlegend=False,
    shapes=shapes, annotations=annotations,
    xaxis=dict(type="date", range=[D(XMIN), D(XMAX)], rangeslider=dict(visible=False),
               tickmode="array", tickvals=DL(range(34)), ticktext=x_tick_labels,
               showgrid=False, zeroline=False, showline=False, ticks="outside", ticklen=6, tickcolor="rgba(0,0,0,0)",
               tickfont=dict(size=12.5, color=TXT, family=FONT), fixedrange=True),
    yaxis=dict(side="right", range=[YMIN, YMAX], tickmode="array", tickvals=y_ticks,
               ticktext=[f"{v:.2f}%" for v in y_ticks], showgrid=False, zeroline=False, showline=False,
               ticks="outside", ticklen=8, tickcolor="rgba(0,0,0,0)",
               tickfont=dict(size=12, color=TXT, family=FONT), fixedrange=True),
)
fig.write_html("out.html", config=dict(displayModeBar=False),
               post_script="document.body.style.margin='0';document.body.style.background='#1E222D';")
